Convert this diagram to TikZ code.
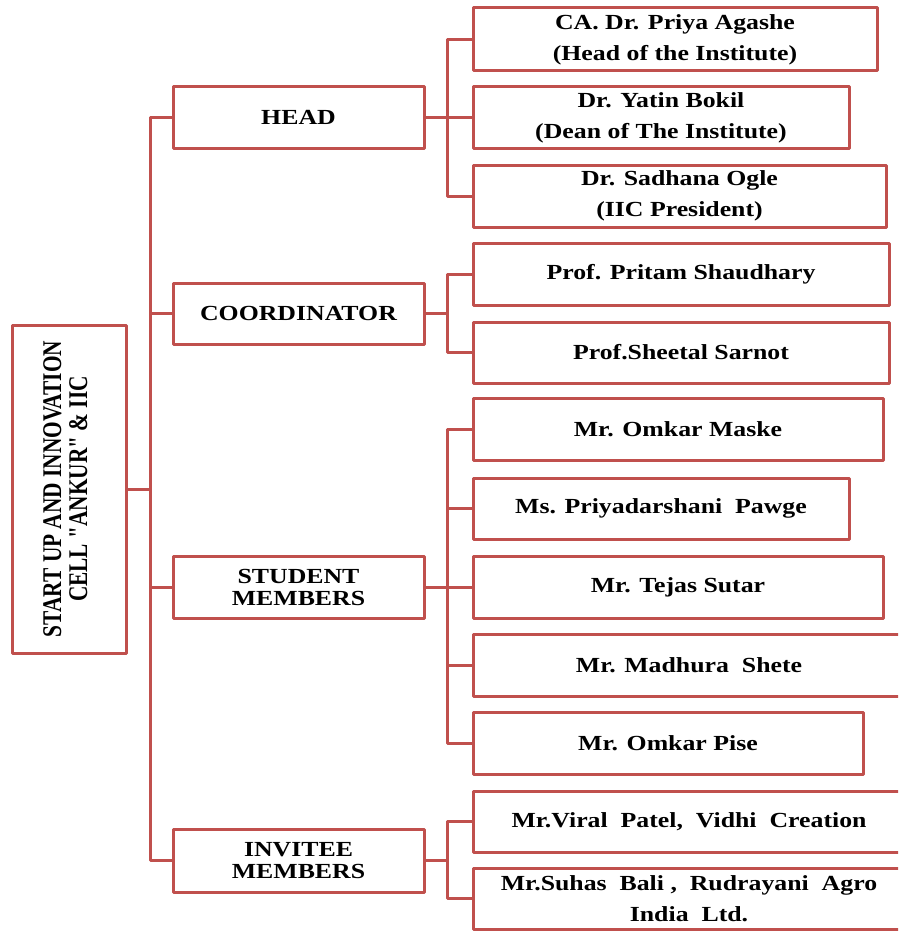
\documentclass[tikz,border=0pt]{standalone}
\usepackage{fontspec}
\usepackage{graphicx}
\setmainfont{Liberation Serif}[FakeStretch=1.2]
\newfontfamily\rootfont{Liberation Serif}[FakeStretch=0.79]
\definecolor{lineRed}{RGB}{192,80,77}
\tikzset{
  box/.style={draw=lineRed, line width=3pt, rectangle, inner sep=0pt, outer sep=0pt, line join=round, text=black, align=center},
  lvl/.style={box, minimum width=251, minimum height=61, font=\bfseries\fontsize{21.5}{22}\selectfont},
  leaf/.style={box, minimum height=62, font=\bfseries\fontsize{21.5}{31}\selectfont},
  conn/.style={draw=lineRed, line width=3pt, line join=round}
}
\begin{document}
\begin{tikzpicture}[x=1pt,y=-1pt]
\useasboundingbox (0,0) rectangle (898,931);
\begin{scope}
\clip (0,0) rectangle (898,931);
% root
\node[box, minimum width=114, minimum height=328] (root) at (69,489)
  {\rotatebox{90}{\rootfont\bfseries\fontsize{27}{26}\selectfont\begin{tabular}{@{}c@{}}START UP AND INNOVATION\\CELL "ANKUR" \& IIC\end{tabular}}};
% level 1
\node[lvl] (head) at (298.5,117.5) {HEAD};
\node[lvl] (coord) at (298.5,313.5) {COORDINATOR};
\node[lvl, minimum height=62] (stud) at (298.5,587) {STUDENT\\MEMBERS};
\node[lvl, minimum height=63] (inv) at (298.5,860.5) {INVITEE\\MEMBERS};
% leaves
\node[leaf, minimum width=404, minimum height=63] (ca) at (675,39.5) {CA. Dr. Priya Agashe\\(Head of the Institute)};
\node[leaf, minimum width=376, minimum height=61] (yat) at (661,117.5) {Dr. Yatin Bokil\\(Dean of The Institute)};
\node[leaf, minimum width=413] (sad) at (679.5,196) {Dr. Sadhana Ogle\\(IIC President)};
\node[leaf, minimum width=416] (pri) at (681,274) {Prof. Pritam Shaudhary};
\node[leaf, minimum width=416, minimum height=61] (she) at (681,352.5) {Prof.Sheetal Sarnot};
\node[leaf, minimum width=410] (omk) at (678,429) {Mr. Omkar Maske};
\node[leaf, minimum width=376, minimum height=61] (pda) at (661,508.5) {Ms. Priyadarshani \ Pawge};
\node[leaf, minimum width=410] (tej) at (678,587) {Mr. Tejas Sutar};
\node[leaf, minimum width=432] (mad) at (689,665) {Mr. Madhura \ Shete};
\node[leaf, minimum width=390] (ops) at (668,743) {Mr. Omkar Pise};
\node[leaf, minimum width=432, minimum height=61] (vir) at (689,821.5) {Mr.Viral \ Patel, \ Vidhi \ Creation};
\node[leaf, minimum width=432, minimum height=61] (suh) at (689,898.5) {Mr.Suhas \ Bali , \ Rudrayani \ Agro\\India \ Ltd.};
% trunk
\coordinate (t) at (150,0);
\coordinate (b) at (447,0);
\draw[conn] (head.west) -- (head.west -| t) -- (inv.west -| t) -- (inv.west);
\draw[conn] (coord.west) -- (coord.west -| t);
\draw[conn] (stud.west) -- (stud.west -| t);
\draw[conn] (root.east) -- (root.east -| t);
% head branch
\draw[conn] (head.east) -- (head.east -| b);
\draw[conn] (ca.west) -- (ca.west -| b) -- (sad.west -| b) -- (sad.west);
\draw[conn] (yat.west) -- (yat.west -| b);
% coordinator branch
\draw[conn] (coord.east) -- (coord.east -| b);
\draw[conn] (pri.west) -- (pri.west -| b) -- (she.west -| b) -- (she.west);
% student branch
\draw[conn] (stud.east) -- (stud.east -| b);
\draw[conn] (omk.west) -- (omk.west -| b) -- (ops.west -| b) -- (ops.west);
\draw[conn] (pda.west) -- (pda.west -| b);
\draw[conn] (tej.west) -- (tej.west -| b);
\draw[conn] (mad.west) -- (mad.west -| b);
% invitee branch
\draw[conn] (inv.east) -- (inv.east -| b);
\draw[conn] (vir.west) -- (vir.west -| b) -- (suh.west -| b) -- (suh.west);
\end{scope}
\end{tikzpicture}
\end{document}
